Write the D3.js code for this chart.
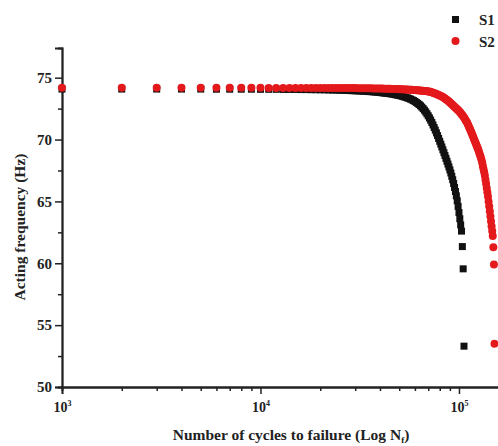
<!DOCTYPE html>
<html>
<head>
<meta charset="utf-8">
<script src="https://cdn.jsdelivr.net/npm/d3@7"></script>
<style>
  body { margin: 0; background: #fff; }
  text { font-family: "Liberation Serif", "DejaVu Serif", serif; font-weight: bold; fill: #222; }
</style>
</head>
<body>
<div id="chart"></div>
<script>
// cycles (N) and acting frequency (Hz)
var s1Cycles = [1000,2000,3000,4000,5000,6000,7000,8000,9000,10000,
	11000,12000,13000,14000,15000,16000,17000,18000,19000,20000,
	21000,22000,23000,24000,25000,26000,27000,28000,29000,30000,
	31000,32000,33000,34000,35000,36000,37000,38000,39000,40000,
	41000,42000,43000,44000,45000,46000,47000,48000,49000,50000,
	51000,52000,53000,54000,55000,56000,57000,58000,59000,60000,
	61000,62000,63000,64000,65000,66000,67000,68000,69000,70000,
	71000,72000,73000,74000,75000,76000,77000,78000,79000,80000,
	81000,82000,83000,84000,85000,86000,87000,88000,89000,90000,
	91000,92000,93000,94000,95000,96000,97000,98000,99000,100000,
	101000,102000,103000,104000,105000,106000];
var s1Freq = [74.08,74.08,74.08,74.08,74.08,74.07,74.07,74.07,74.07,74.06,
	74.06,74.06,74.05,74.05,74.05,74.04,74.04,74.03,74.03,74.02,
	74.02,74.01,74.00,74.00,73.99,73.98,73.97,73.96,73.95,73.94,
	73.93,73.92,73.91,73.90,73.88,73.87,73.85,73.84,73.82,73.80,
	73.78,73.76,73.74,73.72,73.70,73.68,73.65,73.62,73.59,73.56,
	73.53,73.49,73.45,73.41,73.37,73.32,73.27,73.21,73.15,73.08,
	73.00,72.92,72.83,72.73,72.62,72.50,72.37,72.23,72.08,71.92,
	71.75,71.57,71.38,71.18,70.97,70.76,70.54,70.32,70.09,69.86,
	69.63,69.40,69.17,68.94,68.71,68.48,68.25,68.02,67.79,67.55,
	67.30,67.03,66.75,66.45,66.13,65.80,65.45,65.05,64.60,64.10,
	63.60,63.10,62.60,61.35,59.55,53.30];

var s2Cycles = [1000,2000,3000,4000,5000,6000,7000,8000,9000,10000,
	11000,12000,13000,14000,15000,16000,17000,18000,19000,20000,
	21000,22000,23000,24000,25000,26000,27000,28000,29000,30000,
	31000,32000,33000,34000,35000,36000,37000,38000,39000,40000,
	41000,42000,43000,44000,45000,46000,47000,48000,49000,50000,
	51000,52000,53000,54000,55000,56000,57000,58000,59000,60000,
	61000,62000,63000,64000,65000,66000,67000,68000,69000,70000,
	71000,72000,73000,74000,75000,76000,77000,78000,79000,80000,
	81000,82000,83000,84000,85000,86000,87000,88000,89000,90000,
	91000,92000,93000,94000,95000,96000,97000,98000,99000,100000,
	101000,102000,103000,104000,105000,106000,107000,108000,109000,110000,
	111000,112000,113000,114000,115000,116000,117000,118000,119000,120000,
	121000,122000,123000,124000,125000,126000,127000,128000,129000,130000,
	131000,132000,133000,134000,135000,136000,137000,138000,139000,140000,
	141000,142000,143000,144000,145000,146000,147000,148000,149000,150000,
	151000];
var s2Freq = [74.18,74.18,74.18,74.18,74.18,74.18,74.18,74.18,74.18,74.18,
	74.17,74.17,74.17,74.17,74.17,74.17,74.17,74.17,74.17,74.17,
	74.16,74.16,74.16,74.16,74.16,74.16,74.16,74.16,74.16,74.16,
	74.15,74.15,74.15,74.14,74.14,74.14,74.13,74.13,74.13,74.12,
	74.12,74.11,74.11,74.10,74.10,74.09,74.09,74.08,74.08,74.07,
	74.07,74.06,74.05,74.05,74.04,74.03,74.03,74.02,74.01,74.00,
	73.99,73.98,73.97,73.96,73.95,73.94,73.93,73.92,73.90,73.89,
	73.88,73.85,73.82,73.79,73.75,73.72,73.68,73.65,73.61,73.57,
	73.53,73.48,73.43,73.38,73.32,73.26,73.20,73.13,73.07,73.00,
	72.93,72.86,72.79,72.72,72.65,72.58,72.51,72.44,72.37,72.30,
	72.22,72.14,72.05,71.97,71.88,71.78,71.68,71.57,71.46,71.35,
	71.21,71.07,70.93,70.79,70.65,70.50,70.35,70.20,70.05,69.90,
	69.76,69.62,69.48,69.34,69.20,69.03,68.86,68.69,68.52,68.35,
	68.10,67.85,67.60,67.35,67.10,66.76,66.42,66.08,65.74,65.40,
	65.00,64.60,64.20,63.80,63.40,63.00,62.60,62.20,61.30,59.90,
	53.50];

var yTicks = [50, 55, 60, 65, 70, 75];
var yMinorTicks = [52.5, 57.5, 62.5, 67.5, 72.5];
var xTicks = [1e3, 1e4, 1e5];
var seriesNames = ['S1', 'S2'];

var width = 498, height = 446;

var svg = d3.select('#chart').append('svg')
	.attr('width', width)
	.attr('height', height);

var x = d3.scaleLog()
	.domain([1000, 158000])
	.range([62, 498.4]);

var y = d3.scaleLinear()
	.domain([50, 77.4])
	.range([387, 48]);

// minor x ticks 2..9 x each decade
var xMinor = [];
[1e3, 1e4, 1e5].forEach(function (d) {
	for (var k = 2; k <= 9; k++) {
		if (d * k <= 158000) xMinor.push(d * k);
	}
});

var xAxisMinor = d3.axisBottom(x).tickValues(xMinor).tickSize(4).tickFormat('');
var xAxis = d3.axisBottom(x).tickValues(xTicks).tickSize(7).tickFormat('');
var yAxisMinor = d3.axisLeft(y).tickValues(yMinorTicks).tickSize(4).tickFormat('');
var yAxis = d3.axisLeft(y).tickValues(yTicks).tickSize(7).tickPadding(3).tickFormat(d3.format('d'));

svg.append('g').attr('class', 'axis')
	.attr('transform', 'translate(0,387)')
	.call(xAxisMinor);
var gx = svg.append('g').attr('class', 'axis')
	.attr('transform', 'translate(0,387)')
	.call(xAxis);
svg.append('g').attr('class', 'axis')
	.attr('transform', 'translate(62,0)')
	.call(yAxisMinor);
var gy = svg.append('g').attr('class', 'axis')
	.attr('transform', 'translate(62,0)')
	.call(yAxis);

svg.selectAll('.axis path.domain').attr('stroke', '#222').attr('stroke-width', 1.8);
svg.selectAll('.axis .tick line').attr('stroke', '#222').attr('stroke-width', 1.5);

gy.selectAll('.tick text')
	.style('font-size', '15px')
	.attr('fill', '#222');

// 10^n labels
gx.selectAll('.tick').each(function (d) {
	var t = d3.select(this).append('text')
		.attr('y', 25)
		.attr('text-anchor', 'middle')
		.style('font-size', '14px')
		.attr('fill', '#222');
	t.append('tspan').text('10');
	t.append('tspan')
		.attr('dy', -6)
		.style('font-size', '8px')
		.text(String(Math.round(Math.log10(d))));
});

// axis titles
var xt = svg.append('text')
	.attr('x', 291)
	.attr('y', 440)
	.attr('text-anchor', 'middle')
	.style('font-size', '15.5px');
xt.append('tspan').text('Number of cycles to failure (Log N');
xt.append('tspan').attr('dy', 3).style('font-size', '9px').text('f');
xt.append('tspan').attr('dy', -3).text(')');

svg.append('text')
	.attr('transform', 'translate(25,227) rotate(-90)')
	.attr('text-anchor', 'middle')
	.style('font-size', '15.5px')
	.text('Acting frequency (Hz)');

var s1 = s1Cycles.map(function (c, i) { return { n: c, f: s1Freq[i] }; });
var s2 = s2Cycles.map(function (c, i) { return { n: c, f: s2Freq[i] }; });

svg.append('g').selectAll('rect')
	.data(s1)
	.enter().append('rect')
	.attr('x', function (d) { return x(d.n) - 3.5; })
	.attr('y', function (d) { return y(d.f) - 3.5; })
	.attr('width', 7)
	.attr('height', 7)
	.attr('fill', '#111');

svg.append('g').selectAll('circle')
	.data(s2)
	.enter().append('circle')
	.attr('cx', function (d) { return x(d.n); })
	.attr('cy', function (d) { return y(d.f); })
	.attr('r', 4)
	.attr('fill', '#e3191c');

// legend
var legend = svg.append('g');
legend.append('rect')
	.attr('x', 452).attr('y', 16).attr('width', 7).attr('height', 7)
	.attr('fill', '#111');
legend.append('circle')
	.attr('cx', 455.5).attr('cy', 41).attr('r', 4)
	.attr('fill', '#e3191c');
legend.selectAll('text.lg')
	.data(seriesNames)
	.enter().append('text')
	.attr('class', 'lg')
	.attr('x', 479)
	.attr('y', function (d, i) { return 24.5 + i * 22; })
	.style('font-size', '15px')
	.text(function (d) { return d; });
</script>
</body>
</html>
